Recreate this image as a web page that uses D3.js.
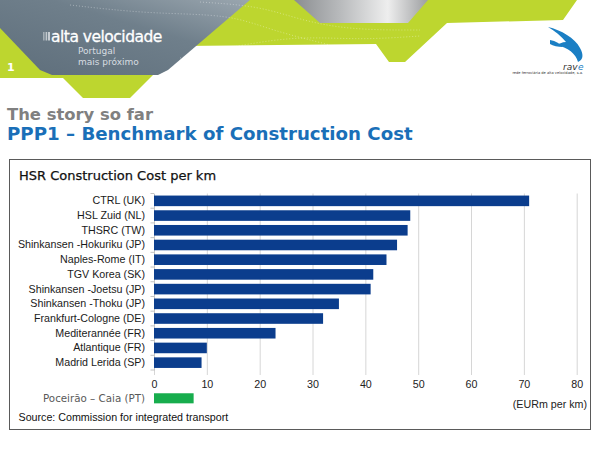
<!DOCTYPE html>
<html>
<head>
<meta charset="utf-8">
<script src="https://cdn.jsdelivr.net/npm/d3@7"></script>
<style>
  html, body { margin: 0; padding: 0; background: #fff; }
  svg { display: block; }
</style>
</head>
<body>
<svg id="chart" width="600" height="449"></svg>
<script>
// ---------------- data ----------------
const categories = [
  "CTRL (UK)", "HSL Zuid (NL)", "THSRC (TW)", "Shinkansen -Hokuriku (JP)",
  "Naples-Rome (IT)", "TGV Korea (SK)", "Shinkansen -Joetsu (JP)",
  "Shinkansen -Thoku (JP)", "Frankfurt-Cologne (DE)", "Mediterannée (FR)",
  "Atlantique (FR)", "Madrid Lerida (SP)"
];
const costs = [71, 48.5, 48, 46, 44, 41.5, 41, 35, 32, 23, 10, 9];
const ptCategory = ["Poceirão – Caia (PT)"];
const ptCost = [7.5];
const xTicks = [0, 10, 20, 30, 40, 50, 60, 70, 80];
const headline1 = "The story so far";
const headline2 = "PPP1 – Benchmark of Construction Cost";
const chartTitle = "HSR Construction Cost per km";
const unitLabel = "(EURm per km)";
const sourceText = "Source: Commission for integrated transport";

// ---------------- setup ----------------
const svg = d3.select("#chart");
const defs = svg.append("defs");

const gGray = defs.append("linearGradient").attr("id", "gGray")
  .attr("x1", "0").attr("y1", "1").attr("x2", "1").attr("y2", "0");
gGray.append("stop").attr("offset", "0").attr("stop-color", "#5e6e7b");
gGray.append("stop").attr("offset", "0.6").attr("stop-color", "#6f7f8b");
gGray.append("stop").attr("offset", "1").attr("stop-color", "#9aa6af");

const gSilver = defs.append("linearGradient").attr("id", "gSilver")
  .attr("x1", "0").attr("y1", "0").attr("x2", "1").attr("y2", "0");
gSilver.append("stop").attr("offset", "0").attr("stop-color", "#8a8d90");
gSilver.append("stop").attr("offset", "0.35").attr("stop-color", "#b9bbbd");
gSilver.append("stop").attr("offset", "0.7").attr("stop-color", "#eeeeee");
gSilver.append("stop").attr("offset", "1").attr("stop-color", "#9c9ea0");

// ---------------- header decoration ----------------
const hdr = svg.append("g");
const line = d3.line().curve(d3.curveLinearClosed);
hdr.append("path").attr("fill", "#bdd62f")
  .attr("d", line([[0,0],[577,0],[563,20],[447,23],[405,62],[389,62],[376,44],[182,46],[130,98],[83,98],[63,78],[0,78]]));
hdr.append("path").attr("fill", "url(#gSilver)")
  .attr("d", line([[294,0],[428,0],[408,23],[320,23]]));
hdr.append("path").attr("fill", "url(#gGray)")
  .attr("d", line([[0,0],[250,0],[168,70],[158,75],[52,75],[40,70],[0,28]]));

// dotted decorative lines
const dotted = [
  [[70,5],[150,14],[230,14],[270,30],[330,45]],
  [[200,2],[260,6],[300,20],[350,30],[420,30]],
  [[180,58],[240,45],[300,36],[360,40],[420,36]]
];
dotted.forEach(pts => {
  hdr.append("path").attr("d", d3.line().curve(d3.curveBasis)(pts))
    .attr("fill", "none").attr("stroke", "#ffffff").attr("stroke-opacity", 0.45)
    .attr("stroke-width", 0.8).attr("stroke-dasharray", "1,2");
});

// "alta velocidade" logo
[0, 1, 2].forEach(i => {
  hdr.append("rect").attr("x", 43 + i * 2.6).attr("y", 32).attr("width", 1.6).attr("height", 8.5)
    .attr("fill", "#dfe3e6").attr("opacity", 0.5 + i * 0.25);
});
hdr.append("text").attr("x", 51).attr("y", 41.5).text("alta velocidade")
  .attr("font-family", "'DejaVu Sans', sans-serif").attr("font-size", 15.5)
  .attr("fill", "#ffffff").attr("stroke", "#ffffff").attr("stroke-width", 0.3)
  .attr("letter-spacing", "-0.5");
hdr.append("text").attr("x", 78).attr("y", 54).text("Portugal")
  .attr("font-family", "'DejaVu Sans', sans-serif").attr("font-size", 9)
  .attr("fill", "#d7dde1");
hdr.append("text").attr("x", 78).attr("y", 64.5).text("mais próximo")
  .attr("font-family", "'DejaVu Sans', sans-serif").attr("font-size", 9)
  .attr("fill", "#d7dde1");
hdr.append("text").attr("x", 7).attr("y", 71).text("1")
  .attr("font-family", "'DejaVu Sans', sans-serif").attr("font-size", 11)
  .attr("font-weight", "bold").attr("fill", "#ffffff");

// rave logo
hdr.append("path").attr("fill", "#1b7fc4")
  .attr("d", "M548,27 C561,30 575,38 580,48 C584,55 583,60 578,62 C576,54 568,47 556,45 C559,44 562,42 566,42 C561,36 555,31 548,27 Z");
hdr.append("path").attr("fill", "#1b7fc4")
  .attr("d", "M550,40 C556,41 560,44 563,47 C558,47 553,46 550,44 Z");
hdr.append("text").attr("x", 563).attr("y", 69.5).text("rav")
  .attr("font-family", "'DejaVu Sans', sans-serif").attr("font-size", 9)
  .attr("font-style", "italic").attr("fill", "#333");
hdr.append("text").attr("x", 578).attr("y", 69.5).text("e")
  .attr("font-family", "'DejaVu Sans', sans-serif").attr("font-size", 9)
  .attr("font-style", "italic").attr("fill", "#1b7fc4");
hdr.append("text").attr("x", 583).attr("y", 73.5).attr("text-anchor", "end")
  .text("rede ferroviária de alta velocidade, s.a.")
  .attr("font-family", "'DejaVu Sans', sans-serif").attr("font-size", 3.6)
  .attr("fill", "#333");

// ---------------- headlines ----------------
svg.append("text").attr("x", 7).attr("y", 120).text(headline1)
  .attr("font-family", "'DejaVu Sans', Verdana, sans-serif").attr("font-weight", "bold")
  .attr("font-size", 16.4).attr("fill", "#808080");
svg.append("text").attr("x", 7).attr("y", 140).text(headline2)
  .attr("font-family", "'DejaVu Sans', Verdana, sans-serif").attr("font-weight", "bold")
  .attr("font-size", 18.2).attr("fill", "#1a6fb8");

// ---------------- chart box ----------------
svg.append("rect").attr("x", 9.5).attr("y", 159.5).attr("width", 581).attr("height", 270)
  .attr("fill", "#fff").attr("stroke", "#5a5a5a").attr("stroke-width", 1);
svg.append("text").attr("x", 19).attr("y", 180).text(chartTitle)
  .attr("font-family", "'DejaVu Sans', Verdana, sans-serif")
  .attr("font-size", 13).attr("fill", "#111").attr("stroke", "#111").attr("stroke-width", 0.25);

// ---------------- scales ----------------
const plotTop = 193.5, plotBottom = 370;
const x = d3.scaleLinear().domain([0, 80]).range([154, 576.7]);
const y = d3.scaleBand().domain(categories).range([plotTop, plotBottom])
  .paddingInner(0.28).paddingOuter(0.14);
const yPt = d3.scaleBand().domain(ptCategory).range([391.3, 405.3])
  .paddingInner(0.28).paddingOuter(0.14);

const labelFont = "'Liberation Sans', Arial, sans-serif";

// gridlines + x tick labels
const xAxis = d3.axisBottom(x).tickValues(xTicks).tickFormat(d3.format("d"))
  .tickSizeInner(-(375 - plotTop)).tickSizeOuter(0).tickPadding(5.5);
const gx = svg.append("g").attr("transform", "translate(0,375)").call(xAxis);
gx.select(".domain").remove();
gx.selectAll(".tick line").attr("stroke", "#d6d6d6");
gx.selectAll(".tick text").attr("font-family", labelFont).attr("font-size", 10.7).attr("fill", "#222");

// y axis
const yAxis = d3.axisLeft(y).tickSize(0).tickPadding(9);
const gy = svg.append("g").attr("transform", "translate(154,0)").call(yAxis);
gy.select(".domain").attr("stroke", "#c4c4c4");
gy.selectAll(".tick text").attr("font-family", labelFont).attr("font-size", 10.7).attr("fill", "#1a1a1a");

// band boundary ticks
const boundaries = categories.map(c => y(c) - y.step() * y.paddingInner() / 2).concat([plotBottom]);
svg.append("g").selectAll("line").data(boundaries).join("line")
  .attr("x1", x(0) - 3.5).attr("x2", x(0)).attr("y1", d => d).attr("y2", d => d)
  .attr("stroke", "#c4c4c4");

// bars
svg.append("g").selectAll("rect").data(categories).join("rect")
  .attr("x", x(0)).attr("y", d => y(d))
  .attr("width", (d, i) => x(costs[i]) - x(0)).attr("height", y.bandwidth())
  .attr("fill", "#0b3d8d");

// Portugal bar
svg.append("g").selectAll("rect").data(ptCategory).join("rect")
  .attr("x", x(0)).attr("y", d => yPt(d))
  .attr("width", (d, i) => x(ptCost[i]) - x(0)).attr("height", yPt.bandwidth())
  .attr("fill", "#17ad4d");
svg.append("g").selectAll("text").data(ptCategory).join("text")
  .attr("x", 145).attr("y", d => yPt(d) + yPt.bandwidth() / 2).attr("dy", "0.35em")
  .attr("text-anchor", "end").text(d => d)
  .attr("font-family", "'DejaVu Sans', Verdana, sans-serif").attr("font-size", 10.3)
  .attr("fill", "#595959");

// unit label & source
svg.append("text").attr("x", 587).attr("y", 404).attr("dy", "0.35em").attr("text-anchor", "end")
  .text(unitLabel).attr("font-family", labelFont).attr("font-size", 10.7).attr("fill", "#222");
svg.append("text").attr("x", 18.5).attr("y", 417.7).attr("dy", "0.35em")
  .text(sourceText).attr("font-family", labelFont).attr("font-size", 10.7).attr("fill", "#111");
</script>
</body>
</html>
